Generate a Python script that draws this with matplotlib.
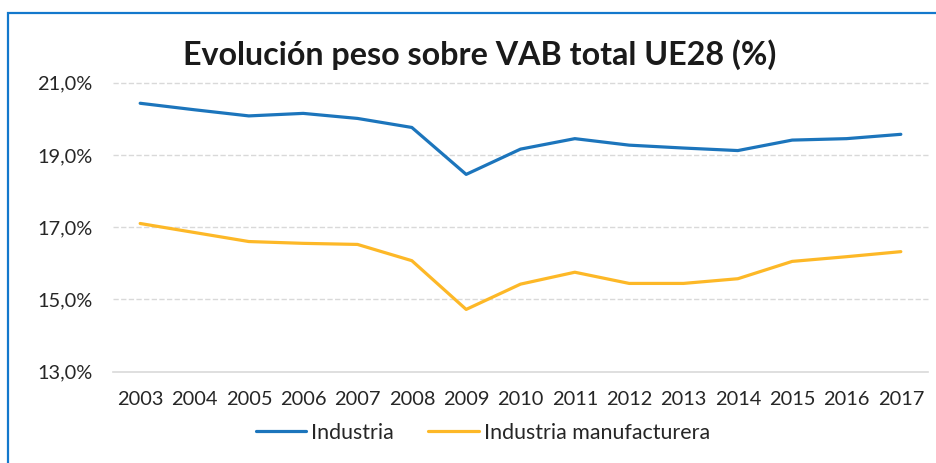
import matplotlib
matplotlib.use("Agg")
import matplotlib.pyplot as plt
from matplotlib.patches import Rectangle

plt.rcParams['font.family'] = ['Lato', 'DejaVu Sans']

years = ["2003", "2004", "2005", "2006", "2007", "2008", "2009", "2010",
         "2011", "2012", "2013", "2014", "2015", "2016", "2017"]
industria = [20.43, 20.25, 20.08, 20.15, 20.01, 19.76, 18.46, 19.16,
             19.45, 19.27, 19.19, 19.12, 19.41, 19.45, 19.57]
manufacturera = [17.10, 16.85, 16.60, 16.55, 16.52, 16.07, 14.72, 15.42,
                 15.75, 15.44, 15.44, 15.57, 16.05, 16.18, 16.32]
y_ticks = [13, 15, 17, 19, 21]
y_labels = ["13,0%", "15,0%", "17,0%", "19,0%", "21,0%"]

blue = "#1C75BC"
gold = "#FDB827"
text_col = "#262626"

fig = plt.figure(figsize=(9.37, 4.63), dpi=100)
ax = fig.add_axes([113 / 937, 0.1976, 815 / 937, 0.6238])

x = list(range(len(years)))
ax.plot(x, industria, color=blue, lw=2.3, label="Industria", solid_capstyle="round")
ax.plot(x, manufacturera, color=gold, lw=2.3, label="Industria manufacturera", solid_capstyle="round")

ax.set_xlim(-0.5, len(years) - 0.5)
ax.set_ylim(13, 21)
ax.set_xticks(x)
ax.set_xticklabels(years)
ax.set_yticks(y_ticks)
ax.set_yticklabels(y_labels)
ax.tick_params(axis="both", length=0, labelsize=14.4, colors=text_col)
ax.tick_params(axis="y", pad=15)
ax.tick_params(axis="x", pad=14)

ax.grid(axis="y", color="#d9d9d9", lw=1, linestyle=(0, (3.8, 1.7)))
for gl in ax.get_ygridlines():
    gl.set_clip_on(False)
ax.get_ygridlines()[0].set_visible(False)
for s in ["top", "left", "right"]:
    ax.spines[s].set_visible(False)
ax.spines["bottom"].set_color("#d9d9d9")
ax.spines["bottom"].set_linewidth(1.2)

fig.text(480 / 937, 0.861, "Evolución peso sobre VAB total UE28 (%)",
         ha="center", va="baseline", fontsize=23.2, fontweight="bold", color="#1a1a1a")

fig.legend(loc="center", bbox_to_anchor=(483 / 937, 0.0654), ncol=2, frameon=False,
           fontsize=15.4, handlelength=2.35, handletextpad=0.25, columnspacing=1.6,
           labelcolor=text_col)

# blue frame around the chart, running off the right and bottom
fig.patches.append(Rectangle((8 / 937, -0.1), 1.2, 1 - 13 / 463 + 0.1,
                             transform=fig.transFigure, fill=False,
                             edgecolor="#1378CC", lw=1.6, clip_on=False))

fig.savefig("out.png", dpi=100)
